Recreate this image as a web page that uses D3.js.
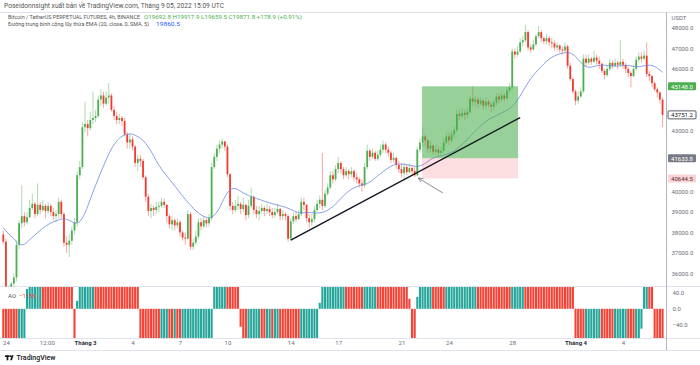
<!DOCTYPE html>
<html><head><meta charset="utf-8">
<script src="https://cdn.jsdelivr.net/npm/d3@7"></script>
<style>html,body{margin:0;padding:0;background:#fff;}svg{display:block;}</style>
</head><body><svg id="c" width="700" height="365"></svg>
<script>
// ---------------- DATA ----------------
const firstOpen = 37900;
const closes = [
37550,35100,35000,35500,35800,37400,38450,38800,38500,38750,
39200,39400,38900,39350,39100,39300,39050,39300,39000,38800,
38900,39500,38900,37500,37400,37600,38100,38500,40800,41200,
43150,43300,43100,43500,43600,43700,44500,44700,44300,44600,
44700,44000,43700,43500,43600,43450,42800,42400,42550,42200,
41400,41600,41500,40700,39750,39050,39200,39100,39250,39300,
39500,39350,38800,38400,38600,38350,38500,38000,37750,37700,
38900,37300,37500,37800,38500,38300,38600,38450,38700,41200,
41700,42100,42300,42450,42200,40850,39300,39100,39300,39400,
39150,39350,38850,39300,39750,39100,38900,39050,39200,39050,
39150,39000,38850,39000,39150,38800,38900,38800,37700,38550,
38800,38650,38900,39500,39350,38700,38500,38650,39100,39400,
39600,39300,39900,40200,40800,40600,41100,41400,41100,40800,
41000,40850,41000,40700,40600,40400,40300,41200,42000,41700,
41900,41600,41800,42050,42300,42050,41900,41550,41650,41300,
41100,40900,41200,40950,41150,41000,40800,42050,42400,42700,
42500,42100,42250,41950,42050,41900,42000,42400,42700,42500,
42800,43000,43800,43700,43850,43750,43900,44550,44400,44500,
44300,44450,44200,44400,44250,44150,44350,44650,44500,44700,
44550,44950,45100,46850,46700,46850,47300,47400,47800,47050,
46950,47200,47600,47800,47500,47350,47500,47300,47250,47050,
47150,46950,46900,47100,46150,45500,44900,44450,44650,44900,
46500,46300,46500,46350,46550,46400,46250,45900,45700,46000,
46300,46150,46300,46200,46350,46200,46000,45800,45650,46000,
46450,46600,46500,46650,45750,45650,45300,45000,44850,44500,
43751.2];
const highs = [
38100,37700,35400,35600,36000,37600,38600,40300,39000,39000,
39600,39900,39500,40400,39500,39600,39400,39500,39400,39200,
39100,39700,39600,39000,37800,37900,38300,38700,41000,41500,
43400,44400,43500,43900,44900,44000,44700,45000,44900,44900,
45300,44800,44200,43900,43800,43700,43600,42900,42800,42700,
42300,41800,41800,41600,40800,39900,39400,39300,39500,39500,
39700,39650,39400,38900,38800,38700,38700,38600,38100,38000,
39100,39000,37700,38100,38700,38700,38800,38700,38900,41400,
41900,42300,42500,42600,42500,42300,40900,39500,39600,39800,
39500,39700,39400,39600,40200,39800,39300,39300,39400,39300,
39400,39300,39200,39200,39400,39200,39100,39000,38900,38700,
39000,39000,39100,39700,39700,39400,38900,38900,39300,39600,
39800,41900,40100,40400,41000,41000,41300,41700,41500,41200,
41200,41100,41200,41100,40900,40700,40600,41400,42300,42100,
42100,42000,42000,42300,42500,42400,42200,42000,41900,41700,
41500,41400,41400,41300,41400,41300,41200,42200,42600,43150,
42800,42600,42500,42300,42300,42200,42200,42600,42900,42900,
43000,43200,44000,44000,44100,44000,44100,44700,45150,44700,
44600,44600,44500,44600,44500,44400,44500,44800,44800,44900,
44800,45100,45300,47000,47000,47100,47500,47600,48150,47900,
47200,47400,47700,48100,47900,47600,47700,47600,47500,47400,
47300,47200,47100,47300,47200,46300,45600,45000,44900,45100,
46700,46700,46700,46600,46900,46700,46600,46300,46000,46200,
46500,46400,46500,46400,47400,46500,46300,46100,45900,46200,
46600,46800,46800,46900,47300,45900,45700,45400,45100,44900,
44600];
const lows = [
37450,34900,34330,34800,35300,35600,37200,38200,38300,38400,
38700,39100,38700,38800,38900,39000,38700,38900,38800,38600,
38500,38700,38700,37300,37000,36800,37400,37900,38300,40600,
41100,42900,42700,43000,43300,43400,43600,44200,44100,44200,
44300,43900,43500,43300,43300,43200,42700,42100,42100,42000,
41200,41000,41200,40600,39500,38800,38700,38800,38900,39000,
39200,39200,38500,38200,38100,38100,38200,37800,37600,37400,
37650,37150,37150,37400,37700,38100,38200,38250,38300,38600,
41100,41500,41900,42100,42000,40700,39100,38900,39000,39100,
38900,39000,38600,38700,39200,38900,38700,38600,38900,38800,
38900,38800,38700,38700,38900,38600,38600,38600,37550,37600,
38400,38500,38600,38800,39100,38500,38200,38300,38500,39000,
39200,39100,39200,39800,40100,40400,40500,40900,40900,40600,
40700,40600,40700,40500,40400,40200,40000,40200,41100,41500,
41600,41500,41500,41700,41900,41900,41700,41400,41400,41100,
40900,40700,40600,40800,40900,40800,40700,40750,41900,42200,
42200,41900,41900,41800,41800,41700,41800,41900,42300,42300,
42400,42600,42900,43500,43600,43500,43600,43800,44200,44200,
44100,44200,44000,44100,44100,43900,44000,44200,44300,44400,
44400,44500,44800,45000,46500,46600,46800,47100,47300,46900,
46800,46900,47100,47500,47300,47200,47200,47100,47000,46900,
46900,46800,46700,46800,46000,45400,44800,44235,44300,44600,
44800,46100,46200,46200,46300,46200,46000,45800,45500,45600,
45900,46000,46100,46000,46100,46000,45800,45600,45100,45600,
45900,46300,46300,46400,45600,45400,45100,44900,44600,44300,
43150];
const aoValues = [
-300,-420,-560,-700,-820,-900,
-780,-600,-350,
50,250,420,560,680,760,
740,700,650,590,520,450,380,320,260,190,120,60,
-150,
20,
300,600,900,1150,1350,1500,
1480,1450,1400,1350,1280,1200,1100,1000,900,800,700,600,500,400,300,200,100,
-100,-250,-400,-550,-700,-850,-950,-1050,
-1000,-950,-900,
-950,-1000,
-980,
-1020,-1060,
-1040,-1000,-950,-900,-850,-800,-700,-600,-500,-400,-300,-150,
100,300,500,650,750,
700,600,450,300,150,
-45,
-200,-350,
-330,-300,-260,-220,-180,
-200,-230,
-210,-190,
-220,
-200,-180,
-200,-230,-260,-300,-340,-380,-420,-450,
-420,-380,-330,-270,-200,-130,-100,
15,
150,300,450,600,750,900,1000,1100,
1150,1120,
1080,1000,900,800,700,620,
650,700,760,800,830,
810,780,740,690,620,540,460,380,300,220,150,80,
25,
-150,-200,
30,
150,300,420,520,600,
580,550,500,450,400,
430,480,540,600,700,800,900,1000,1100,1200,1300,1380,
1350,1300,1250,1200,1150,1100,1050,1000,950,900,850,800,750,
900,1100,1300,1500,1700,
1680,1650,1600,1550,1500,1450,1400,1350,1300,1250,1200,1100,1000,900,800,650,500,300,100,
-100,-300,-500,-700,
-680,-640,-600,-550,-500,-450,
-480,-520,-560,-600,-640,
-600,-550,-500,-450,-400,
-420,-450,-480,
-400,-250,-50,
150,250,
200,100,
-100,-250,-400,-550];
const emaLength = 20;
const emaSmoothing = 5;
const emaSeed = 38300;
const priceTicks = [48000,47000,46000,45000,44000,43000,42000,41000,40000,39000,38000,37000,36000];
const aoTicks = [40,0,-40];
const timeTickIdx = [1,16.5,31,49,67,85,109,127,151,169,193,217,235];
const timeTickLabels = ["24","12:00","Tháng 3","4","7","10","14","17","21","24","28","Tháng 4","4"];
const boldLabels = ["Tháng 3","Tháng 4"];
const posStart = 158.8, posEnd = 195.2;
const posTarget = 45148.0, posEntry = 41633.8, posStop = 40644.5;
const trendStart = [109, 37630], trendEnd = [196, 43620];
const arrowTail = [166.7, 39930], arrowHead = [157.4, 40665];
const lastClose = 43751.2;
const headerLine1 = "Poseidonnsight xuất bản về TradingView.com, Tháng 9 05, 2022 15:09 UTC";
const headerSymbol = "Bitcoin / TetherUS PERPETUAL FUTURES, 4h, BINANCE";
const headerOHLC = "O19692.8  H19917.9  L19659.5  C19871.8  +178.9 (+0.91%)";
const headerEma = "Đường trung bình cộng lũy thừa EMA (20, close, 0, SMA, 5)";
const headerEmaVal = "19860.5";
const aoName = "AO", aoLegendVal = "−1156";

// ---------------- CHART ----------------
const FONT = "Roboto, 'Liberation Sans', sans-serif";
const svg = d3.select("#c").attr("font-family", FONT);
const axisX = 666.5, mainTop = 12.5, mainBottom = 286.5, aoBottom = 338;
const UP = "#4caf50", DOWN = "#f23b30", TEAL = "#26a69a", AORED = "#f44336";

const x = d3.scaleLinear().domain([0, closes.length - 1]).range([3.3, 3.3 + 2.637 * (closes.length - 1)]);
const y = d3.scaleLinear().domain([36000, 48000]).range([273.4, 28]);
const aoY = d3.scaleLinear().domain([-40, 40]).range([324.7, 292.9]);

const defs = svg.append("defs");
defs.append("clipPath").attr("id","mainClip").append("rect").attr("x",0).attr("y",mainTop).attr("width",axisX).attr("height",mainBottom-mainTop);
defs.append("clipPath").attr("id","aoClip").append("rect").attr("x",0).attr("y",mainBottom+0.5).attr("width",axisX).attr("height",aoBottom-mainBottom-0.5);

// frame lines
const lc = "#e0e3eb";
svg.append("line").attr("x1",0).attr("x2",700).attr("y1",mainTop).attr("y2",mainTop).attr("stroke",lc).attr("stroke-width",1);
svg.append("line").attr("x1",0).attr("x2",700).attr("y1",mainBottom).attr("y2",mainBottom).attr("stroke",lc).attr("stroke-width",1);
svg.append("line").attr("x1",0).attr("x2",700).attr("y1",aoBottom+0.5).attr("y2",aoBottom+0.5).attr("stroke",lc).attr("stroke-width",1);
svg.append("line").attr("x1",0).attr("x2",700).attr("y1",350.5).attr("y2",350.5).attr("stroke",lc).attr("stroke-width",1);

// candles
const candles = closes.map((c,i)=>({i, o: i===0 ? firstOpen : closes[i-1], c, h: highs[i], l: lows[i]}));
const gMain = svg.append("g").attr("clip-path","url(#mainClip)");
const cg = gMain.selectAll("g.cd").data(candles).join("g").attr("class","cd");
cg.append("line")
  .attr("x1",d=>x(d.i)).attr("x2",d=>x(d.i))
  .attr("y1",d=>y(Math.max(d.h,d.o,d.c))).attr("y2",d=>y(Math.min(d.l,d.o,d.c)))
  .attr("stroke",d=>d.c>=d.o?UP:DOWN).attr("stroke-opacity",0.5).attr("stroke-width",0.9);
cg.append("rect")
  .attr("x",d=>x(d.i)-0.9).attr("width",1.8)
  .attr("y",d=>y(Math.max(d.o,d.c)))
  .attr("height",d=>Math.max(0.8, Math.abs(y(d.o)-y(d.c))))
  .attr("fill",d=>d.c>=d.o?UP:DOWN);

// EMA (20) with SMA(5) smoothing
const ema = [];
let prev = emaSeed; const k = 2/(emaLength+1);
closes.forEach(c=>{ prev = prev + (c-prev)*k; ema.push(prev); });
const emaS = ema.map((v,i)=>{ const s = ema.slice(Math.max(0,i-emaSmoothing+1), i+1); return d3.mean(s); });
gMain.append("path").datum(emaS)
  .attr("d", d3.line().x((d,i)=>x(i)).y(d=>y(d)).curve(d3.curveMonotoneX))
  .attr("fill","none").attr("stroke","#6d88e0").attr("stroke-width",0.8);

// position tool
gMain.append("rect").attr("x",x(posStart)).attr("width",x(posEnd)-x(posStart))
  .attr("y",y(posTarget)).attr("height",y(posEntry)-y(posTarget)).attr("fill","rgba(76,175,80,0.58)");
gMain.append("rect").attr("x",x(posStart)).attr("width",x(posEnd)-x(posStart))
  .attr("y",y(posEntry)).attr("height",y(posStop)-y(posEntry)).attr("fill","rgba(242,54,69,0.16)");

// trendline
gMain.append("line").attr("x1",x(trendStart[0])).attr("y1",y(trendStart[1])).attr("x2",x(trendEnd[0])).attr("y2",y(trendEnd[1]))
  .attr("stroke","#131722").attr("stroke-width",1.4);
// arrow
const ax1=x(arrowTail[0]), ay1=y(arrowTail[1]), ax2=x(arrowHead[0]), ay2=y(arrowHead[1]);
gMain.append("line").attr("x1",ax1).attr("y1",ay1).attr("x2",ax2).attr("y2",ay2).attr("stroke","#6b6e78").attr("stroke-width",0.8);
const ang = Math.atan2(ay1-ay2, ax1-ax2);
[0.45,-0.45].forEach(a=>{
  gMain.append("line").attr("x1",ax2).attr("y1",ay2)
    .attr("x2",ax2+5*Math.cos(ang+a)).attr("y2",ay2+5*Math.sin(ang+a))
    .attr("stroke","#6b6e78").attr("stroke-width",0.8);
});

// AO
const gAO = svg.append("g").attr("clip-path","url(#aoClip)");
gAO.selectAll("rect").data(aoValues).join("rect")
  .attr("x",(d,i)=>x(i)-1.05).attr("width",2.1)
  .attr("y",d=>Math.min(aoY(0),aoY(d))).attr("height",d=>Math.abs(aoY(d)-aoY(0)))
  .attr("fill",(d,i)=> (i>0 && d>aoValues[i-1]) ? TEAL : AORED);

// axis line
svg.append("line").attr("x1",axisX).attr("x2",axisX).attr("y1",mainTop).attr("y2",350.5).attr("stroke","#b2b5be").attr("stroke-width",1);

// price axis (labels covered by price boxes are hidden, as in the reference)
const boxVals = [posTarget, lastClose, posEntry, posStop];
const gy = svg.append("g").attr("transform",`translate(${axisX},0)`)
  .call(d3.axisRight(y).tickValues(priceTicks).tickSize(0).tickPadding(5).tickFormat(d=>d3.format(".1f")(d)));
gy.select(".domain").remove();
gy.attr("font-size",6).attr("font-family",FONT);
gy.selectAll("text").attr("fill","#6a6d78");
gy.selectAll(".tick").filter(d=>boxVals.some(b=>Math.abs(y(b)-y(d))<7.5)).remove();
svg.append("text").attr("x",axisX+5).attr("y",17).attr("dominant-baseline","central").attr("font-size",6).attr("fill","#6a6d78").text("USDT");

// AO axis
const gao = svg.append("g").attr("transform",`translate(${axisX},0)`)
  .call(d3.axisRight(aoY).tickValues(aoTicks).tickSize(0).tickPadding(6).tickFormat(d=>d3.format(".1f")(d)));
gao.select(".domain").remove();
gao.attr("font-size",6).attr("font-family",FONT);
gao.selectAll("text").attr("fill","#6a6d78");

// price boxes
const boxes = [
  {v:posTarget, fill:"#4caf50", stroke:"none", tc:"#fff"},
  {v:lastClose, fill:"#fff", stroke:"#131722", tc:"#131722"},
  {v:posEntry, fill:"#787b86", stroke:"none", tc:"#fff"},
  {v:posStop, fill:"#f9d3d6", stroke:"none", tc:"#5d2a2e"}
];
boxes.forEach(b=>{
  svg.append("rect").attr("x",axisX+1.5).attr("y",y(b.v)-4).attr("width",28).attr("height",8).attr("rx",1)
    .attr("fill",b.fill).attr("stroke",b.stroke).attr("stroke-width",0.7);
  svg.append("text").attr("x",axisX+15.5).attr("y",y(b.v)).attr("dominant-baseline","central").attr("text-anchor","middle")
    .attr("font-size",6).attr("fill",b.tc).text(d3.format(".1f")(b.v));
});

// time axis
const gx = svg.append("g").attr("transform",`translate(0,${aoBottom})`)
  .call(d3.axisBottom(x).tickValues(timeTickIdx).tickSize(0).tickPadding(3).tickFormat((d,i)=>timeTickLabels[i]));
gx.select(".domain").remove();
gx.attr("font-size",6).attr("font-family",FONT);
gx.selectAll("text")
  .attr("font-weight",function(){ return boldLabels.includes(this.textContent)?"bold":"normal"; })
  .attr("fill",function(){ return boldLabels.includes(this.textContent)?"#2a2e39":"#6a6d78"; });

// header
svg.append("text").attr("x",4).attr("y",6).attr("dominant-baseline","central").attr("font-size",6.3).attr("fill","#555")
  .attr("textLength",220).attr("lengthAdjust","spacingAndGlyphs").text(headerLine1);
svg.append("text").attr("x",8).attr("y",17).attr("dominant-baseline","central").attr("font-size",5.6).attr("fill","#555")
  .attr("textLength",132).attr("lengthAdjust","spacingAndGlyphs").text(headerSymbol);
svg.append("text").attr("x",144).attr("y",17).attr("dominant-baseline","central").attr("font-size",5.6).attr("fill","#4caf50")
  .attr("textLength",158).attr("lengthAdjust","spacingAndGlyphs").text(headerOHLC);
svg.append("text").attr("x",8).attr("y",23.5).attr("dominant-baseline","central").attr("font-size",5.1).attr("fill","#555")
  .attr("textLength",141).attr("lengthAdjust","spacingAndGlyphs").text(headerEma);
svg.append("text").attr("x",156).attr("y",23.5).attr("dominant-baseline","central").attr("font-size",5.6).attr("fill","#2962ff")
  .attr("textLength",24).attr("lengthAdjust","spacingAndGlyphs").text(headerEmaVal);

// AO legend
svg.append("text").attr("x",8).attr("y",295).attr("dominant-baseline","central").attr("font-size",6).attr("fill","#555").text(aoName);
svg.append("text").attr("x",19).attr("y",295).attr("dominant-baseline","central").attr("font-size",6).attr("fill","#f44336").text(aoLegendVal);

// TradingView logo
const lg = svg.append("g").attr("fill","#131722");
lg.append("rect").attr("x",5).attr("y",355.3).attr("width",4.6).attr("height",1.7);
lg.append("rect").attr("x",6.6).attr("y",355.3).attr("width",1.7).attr("height",5);
lg.append("circle").attr("cx",10.6).attr("cy",356.2).attr("r",0.9);
lg.append("path").attr("d","M11.6,355.3 L13.6,355.3 L11.9,360.3 L10.2,360.3 Z");
svg.append("text").attr("x",16.5).attr("y",358).attr("dominant-baseline","central").attr("font-size",7).attr("fill","#131722")
  .attr("font-weight",500).text("TradingView");
</script>
</body></html>
